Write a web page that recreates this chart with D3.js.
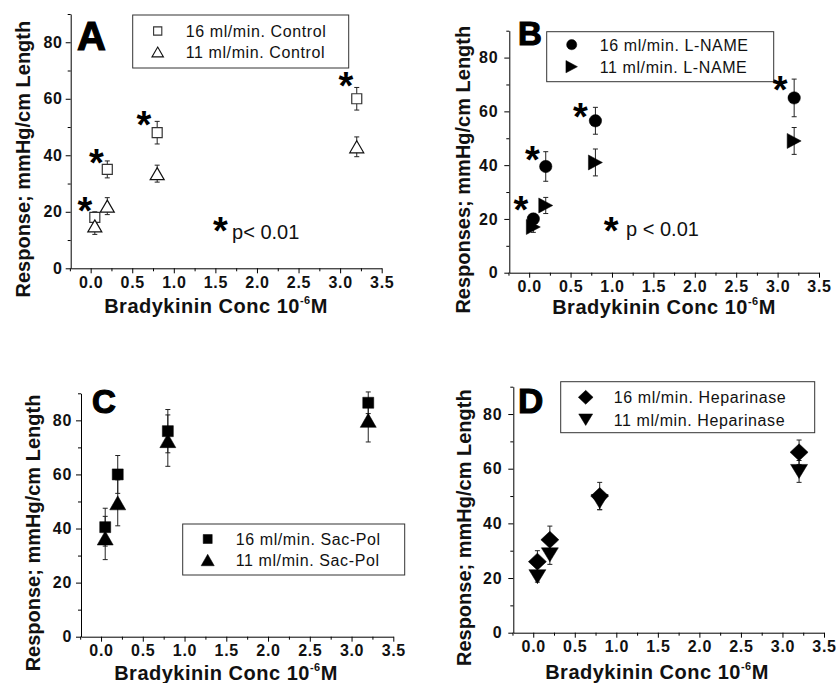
<!DOCTYPE html>
<html>
<head>
<meta charset="utf-8">
<script src="https://cdn.jsdelivr.net/npm/d3@7"></script>
<style>
  body { margin: 0; background: #fff; }
  text { font-family: "Liberation Sans", Arial, sans-serif; }
</style>
</head>
<body>
<svg id="chart" width="836" height="683"></svg>
<script>
// bradykinin doses (10^-6 M)
const doses = [0.05, 0.2, 0.8, 3.2];
const xTicks = [0, 0.5, 1, 1.5, 2, 2.5, 3, 3.5];
const xMinor = [-0.25, 0.25, 0.75, 1.25, 1.75, 2.25, 2.75, 3.25];
const yTicks = [0, 20, 40, 60, 80];
const yMinor = [10, 30, 50, 70, 90];

// A - control
const control16 = [18, 35, 48, 60];
const control16Err = [2, 3, 4, 4];
const control11 = [15, 22, 33.5, 43];
const control11Err = [3, 3, 3, 3.5];
const starsA = [[-0.07, 23], [0.07, 40], [0.64, 53.5], [3.07, 67.3]];

// B - L-NAME
const lname16 = [20, 39.5, 56.5, 65];
const lname16Err = [2, 5.5, 5, 7];
const lname11 = [17, 25, 41, 49];
const lname11Err = [2, 3, 5, 5];
const starsB = [[-0.1, 26.4], [0.04, 45], [0.62, 61], [3.03, 71]];

// C - Sac-Pol
const sacpol16 = [40.5, 60, 76, 86.5];
const sacpol16Err = [7, 7, 8, 4];
const sacpol11 = [36.5, 49.5, 72.5, 80];
const sacpol11Err = [8, 8.5, 9.5, 8];

// D - Heparinase
const hep16 = [26, 34, 50, 66];
const hep16Err = [4, 5, 5, 4.5];
const hep11 = [20.5, 28.5, 48, 59];
const hep11Err = [2, 3.5, 3, 4];

const svg = d3.select("#chart");
svg.append("rect").attr("width", 836).attr("height", 683).attr("fill", "#fff");

// marker outlines, centred on 0,0
const shape = (type, k = 1) => {
  const p = d3.path();
  if (type === "square") {
    const s = 5 * k;
    p.rect(-s, -s, 2 * s, 2 * s);
  } else if (type === "squareBig") {
    const s = 5.5 * k;
    p.rect(-s, -s, 2 * s, 2 * s);
  } else if (type === "circle") {
    p.arc(0, 0, 6.2 * k, 0, 2 * Math.PI);
  } else if (type === "triUp") {
    const w = 7 * k, h = 6 * k;
    p.moveTo(0, -h); p.lineTo(w, h); p.lineTo(-w, h); p.closePath();
  } else if (type === "triUpBig") {
    const w = 8 * k, h = 7 * k;
    p.moveTo(0, -h); p.lineTo(w, h); p.lineTo(-w, h); p.closePath();
  } else if (type === "triRight") {
    const w = 7 * k, h = 7.5 * k;
    p.moveTo(w, 0); p.lineTo(-w, h); p.lineTo(-w, -h); p.closePath();
  } else if (type === "triDown") {
    const w = 8.5 * k, h = 7 * k;
    p.moveTo(0, h); p.lineTo(w, -h); p.lineTo(-w, -h); p.closePath();
  } else if (type === "diamond") {
    const w = 9 * k, h = 8.5 * k;
    p.moveTo(0, -h); p.lineTo(w, 0); p.lineTo(0, h); p.lineTo(-w, 0); p.closePath();
  }
  return p.toString();
};

const panels = [
  {
    letter: "A", letterX: 77, letterY: 50, letterSize: 40,
    left: 70.7, right: 381.7, top: 14, bottom: 268.3, yPad: 3,
    yTitle: "Response; mmHg/cm Length", yTitleX: 23,
    xTitleX: 216, xTitleY: 313,
    series: [
      { name: "16 ml/min. Control", values: control16, err: control16Err, type: "square", fill: "#fff", stroke: "#333" },
      { name: "11 ml/min. Control", values: control11, err: control11Err, type: "triUp", fill: "#fff", stroke: "#111" }
    ],
    legend: { x: 62, y: 1, w: 216, h: 53, rows: [16, 37] },
    stars: starsA, pStar: [1.56, 16], pText: [1.7, 10.4], pLabel: "p< 0.01"
  },
  {
    letter: "B", letterX: 518, letterY: 45, letterSize: 33,
    left: 509.3, right: 819, top: 30.7, bottom: 272.7, yPad: 6,
    yTitle: "Responses; mmHg/cm Length", yTitleX: 463,
    xTitleX: 664, xTitleY: 314,
    series: [
      { name: "16 ml/min. L-NAME", values: lname16, err: lname16Err, type: "circle", fill: "#000", stroke: "#000" },
      { name: "11 ml/min. L-NAME", values: lname11, err: lname11Err, type: "triRight", fill: "#000", stroke: "#000" }
    ],
    legend: { x: 37.4, y: 1, w: 227, h: 50, rows: [13, 35] },
    stars: starsB, pStar: [0.99, 18.5], pText: [1.17, 13.6], pLabel: "p < 0.01"
  },
  {
    letter: "C", letterX: 92, letterY: 413, letterSize: 33,
    left: 81, right: 393.3, top: 393.3, bottom: 636.7, yPad: 4,
    yTitle: "Response; mmHg/cm Length", yTitleX: 33,
    xTitleX: 226, xTitleY: 680,
    series: [
      { name: "16 ml/min. Sac-Pol", values: sacpol16, err: sacpol16Err, type: "squareBig", fill: "#000", stroke: "#000" },
      { name: "11 ml/min. Sac-Pol", values: sacpol11, err: sacpol11Err, type: "triUpBig", fill: "#000", stroke: "#000" }
    ],
    legend: { x: 101.7, y: 130.7, w: 222, h: 51, rows: [15, 36] },
    stars: [], pStar: null
  },
  {
    letter: "D", letterX: 518, letterY: 413, letterSize: 35,
    left: 513.3, right: 824, top: 386.7, bottom: 632.7, yPad: 6,
    yTitle: "Response; mmHg/cm Length", yTitleX: 464,
    xTitleX: 657, xTitleY: 679,
    series: [
      { name: "16 ml/min. Heparinase", values: hep16, err: hep16Err, type: "diamond", fill: "#000", stroke: "#000" },
      { name: "11 ml/min. Heparinase", values: hep11, err: hep11Err, type: "triDown", fill: "#000", stroke: "#000" }
    ],
    legend: { x: 47.4, y: -5, w: 254, h: 51, rows: [15.6, 38] },
    stars: [], pStar: null
  }
];

const drawStar = (g, px, py) => {
  g.append("text")
    .attr("x", px)
    .attr("y", py + 21)
    .attr("text-anchor", "middle")
    .attr("font-size", 38)
    .attr("font-weight", "bold")
    .text("*");
};

const drawPanel = (p) => {
  const x = d3.scaleLinear().domain([-0.24, 3.5]).range([p.left, p.right]);
  const y = d3.scaleLinear().domain([0, 90]).range([p.bottom, p.top]);
  const g = svg.append("g");

  //axes
  const styleAxis = (sel) => {
    sel.attr("font-family", null).attr("font-size", null);
    sel.selectAll("path, line").attr("stroke", "#000").attr("stroke-width", 1);
    sel.selectAll("text")
      .attr("fill", "#111")
      .attr("font-size", 16)
      .attr("font-weight", "bold")
      .attr("letter-spacing", 0.7);
  };
  g.append("g")
    .attr("transform", `translate(0,${p.bottom})`)
    .call(d3.axisBottom(x).tickValues(xTicks).tickFormat(d3.format(".1f")).tickSize(5).tickSizeOuter(0))
    .call(styleAxis);
  g.append("g")
    .attr("transform", `translate(0,${p.bottom})`)
    .call(d3.axisBottom(x).tickValues(xMinor).tickFormat("").tickSize(3))
    .call((s) => s.select(".domain").remove())
    .call(styleAxis);
  g.append("g")
    .attr("transform", `translate(${p.left},0)`)
    .call(d3.axisLeft(y).tickValues(yTicks).tickSize(5).tickPadding(p.yPad).tickSizeOuter(0))
    .call(styleAxis);
  g.append("g")
    .attr("transform", `translate(${p.left},0)`)
    .call(d3.axisLeft(y).tickValues(yMinor).tickFormat("").tickSize(3))
    .call((s) => s.select(".domain").remove())
    .call(styleAxis);

  //axis titles
  g.append("text")
    .attr("transform", `translate(${p.yTitleX},${(p.top + p.bottom) / 2 + 18}) rotate(-90)`)
    .attr("dy", "0.35em")
    .attr("text-anchor", "middle")
    .attr("font-size", 20)
    .attr("font-weight", "bold")
    .attr("fill", "#111")
    .text(p.yTitle);
  const xt = g.append("text")
    .attr("x", p.xTitleX)
    .attr("y", p.xTitleY)
    .attr("text-anchor", "middle")
    .attr("font-size", 20)
    .attr("font-weight", "bold")
    .attr("letter-spacing", 0.5)
    .attr("fill", "#111");
  xt.append("tspan").text("Bradykinin Conc 10");
  xt.append("tspan").attr("font-size", 11).attr("dy", -9).text("-6");
  xt.append("tspan").attr("dy", 9).text("M");

  //panel letter
  g.append("text")
    .attr("x", p.letterX)
    .attr("y", p.letterY)
    .attr("font-size", p.letterSize)
    .attr("font-weight", "bold")
    .attr("stroke", "#000")
    .attr("stroke-width", 1.2)
    .text(p.letter);

  //error bars then markers
  p.series.forEach((s) => {
    s.values.forEach((v, i) => {
      const cx = x(doses[i]);
      const y1 = y(v - s.err[i]);
      const y2 = y(v + s.err[i]);
      g.append("line").attr("x1", cx).attr("x2", cx).attr("y1", y1).attr("y2", y2)
        .attr("stroke", "#222").attr("stroke-width", 1);
      [y1, y2].forEach((yy) => {
        g.append("line").attr("x1", cx - 2.5).attr("x2", cx + 2.5).attr("y1", yy).attr("y2", yy)
          .attr("stroke", "#222").attr("stroke-width", 1);
      });
    });
  });
  p.series.forEach((s) => {
    g.selectAll(null)
      .data(s.values)
      .join("path")
      .attr("d", shape(s.type))
      .attr("transform", (d, i) => `translate(${x(doses[i])},${y(d)})`)
      .attr("fill", s.fill)
      .attr("stroke", s.stroke)
      .attr("stroke-width", s.fill === "#fff" ? 1.2 : 0.5);
  });

  //legend
  const lx = p.left + p.legend.x;
  const ly = p.top + p.legend.y;
  g.append("rect")
    .attr("x", lx).attr("y", ly)
    .attr("width", p.legend.w).attr("height", p.legend.h)
    .attr("fill", "#fff")
    .attr("stroke", "#333")
    .attr("stroke-width", 1);
  p.series.forEach((s, i) => {
    const ry = ly + p.legend.rows[i];
    g.append("path")
      .attr("d", shape(s.type, 0.82))
      .attr("transform", `translate(${lx + 25},${ry})`)
      .attr("fill", s.fill)
      .attr("stroke", s.stroke)
      .attr("stroke-width", s.fill === "#fff" ? 1.1 : 0.5);
    g.append("text")
      .attr("x", lx + 53)
      .attr("y", ry + 6)
      .attr("font-size", 16)
      .attr("letter-spacing", 0.6)
      .attr("fill", "#111")
      .text(s.name);
  });

  //significance stars
  p.stars.forEach((st) => drawStar(g, x(st[0]), y(st[1])));
  if (p.pStar) {
    drawStar(g, x(p.pStar[0]), y(p.pStar[1]));
    g.append("text")
      .attr("x", x(p.pText[0]))
      .attr("y", y(p.pText[1]))
      .attr("font-size", 20)
      .attr("fill", "#111")
      .text(p.pLabel);
  }
};

panels.forEach(drawPanel);
</script>
</body>
</html>
